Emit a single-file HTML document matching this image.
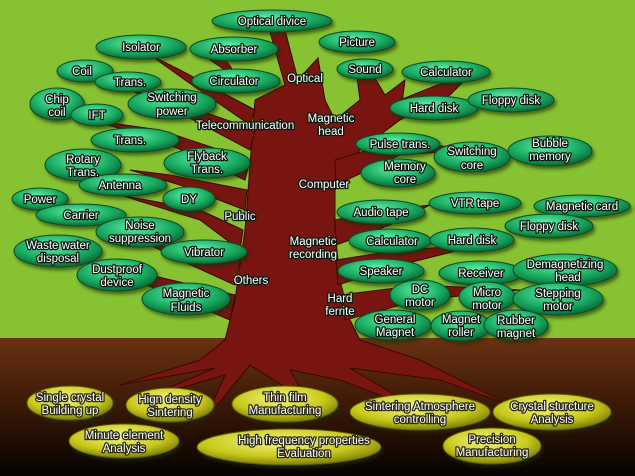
<!DOCTYPE html>
<html><head><meta charset="utf-8"><style>
html,body{margin:0;padding:0;background:#86c232}
svg{display:block}
text{font-family:"Liberation Sans",sans-serif;font-size:11.5px;fill:#fff;stroke:#0a1a10;stroke-width:2.6px;paint-order:stroke;text-anchor:middle;stroke-linejoin:round}
.y text{fill:#fff;stroke:#2a2a10;}
ellipse{stroke:#0a4a26;stroke-width:1}
.y ellipse{stroke:#5a5a00}
</style></head><body>
<svg width="635" height="476" viewBox="0 0 635 476" xmlns="http://www.w3.org/2000/svg">
<defs>
<radialGradient id="g" cx="0.45" cy="0.35" r="0.7"><stop offset="0" stop-color="#5ef0a8"/><stop offset="0.6" stop-color="#17a85e"/><stop offset="1" stop-color="#075a30"/></radialGradient>
<radialGradient id="yl" cx="0.45" cy="0.35" r="0.7"><stop offset="0" stop-color="#f6f68a"/><stop offset="0.6" stop-color="#c8c81a"/><stop offset="1" stop-color="#6e6e08"/></radialGradient>
<linearGradient id="gr" x1="0" y1="0" x2="0" y2="1"><stop offset="0" stop-color="#6a3212"/><stop offset="0.5" stop-color="#3a1806"/><stop offset="1" stop-color="#050200"/></linearGradient>
<filter id="sh" x="-20%" y="-30%" width="140%" height="170%"><feDropShadow dx="2" dy="3" stdDeviation="1.5" flood-color="#1a2a05" flood-opacity="0.6"/></filter>
</defs>
<rect width="635" height="338" fill="#86c232"/>
<rect y="338" width="635" height="138" fill="url(#gr)"/>
<g fill="#781510" stroke="#3a0805" stroke-width="1">
<path d="M255,100 L245,230 L235,300 L225,340 L200,360 L120,385 L215,368 L140,400 L225,375 L205,420 L250,365 L290,390 L310,405 L290,370 L340,380 L420,410 L350,368 L440,380 L510,405 L420,360 L360,340 L350,320 L340,280 L335,230 L335,190 L360,150 L400,120 L405,80 L385,95 L370,70 L355,62 L360,100 L335,120 L325,100 L318,58 L298,80 L285,30 L270,32 L285,85 L255,100 Z"/>
<path d="M255,110 L180,70 L150,55 L185,80 L250,125 Z"/>
<path d="M255,130 L170,100 L130,90 L175,110 L250,150 Z"/>
<path d="M250,160 L160,130 L90,120 L160,140 L245,180 Z"/>
<path d="M247,190 L170,175 L130,170 L180,185 L245,210 Z"/>
<path d="M243,230 L200,210 L120,195 L200,220 L240,250 Z"/>
<path d="M240,260 L180,250 L140,240 L180,260 L235,285 Z"/>
<path d="M235,295 L150,275 L100,270 L160,290 L230,320 Z"/>
<path d="M210,60 L200,45 L215,45 L240,80 Z"/>
<path d="M335,160 L400,140 L470,150 L400,155 L336,185 Z"/>
<path d="M335,220 L390,210 L430,205 L390,225 L336,245 Z"/>
<path d="M336,260 L400,250 L480,245 L400,265 L338,285 Z"/>
<path d="M340,295 L420,285 L520,290 L420,300 L345,320 Z"/>
<path d="M400,100 L450,80 L470,75 L450,95 L400,120 Z"/>
</g>
<g filter="url(#sh)">
<ellipse cx="272" cy="21" rx="60" ry="11" fill="url(#g)"/>
<ellipse cx="141" cy="47" rx="45" ry="12" fill="url(#g)"/>
<ellipse cx="234" cy="49" rx="44" ry="12" fill="url(#g)"/>
<ellipse cx="357" cy="42" rx="38" ry="11" fill="url(#g)"/>
<ellipse cx="85" cy="71" rx="28" ry="11" fill="url(#g)"/>
<ellipse cx="128" cy="82" rx="33" ry="10" fill="url(#g)"/>
<ellipse cx="236" cy="81" rx="44" ry="12" fill="url(#g)"/>
<ellipse cx="365" cy="69" rx="28" ry="10" fill="url(#g)"/>
<ellipse cx="446" cy="72" rx="44" ry="11" fill="url(#g)"/>
<ellipse cx="57" cy="104" rx="27" ry="16" fill="url(#g)"/>
<ellipse cx="97" cy="115" rx="26" ry="11" fill="url(#g)"/>
<ellipse cx="172" cy="104" rx="44" ry="15" fill="url(#g)"/>
<ellipse cx="434" cy="108" rx="44" ry="12" fill="url(#g)"/>
<ellipse cx="511" cy="100" rx="43" ry="12" fill="url(#g)"/>
<ellipse cx="135" cy="140" rx="44" ry="12" fill="url(#g)"/>
<ellipse cx="398" cy="144" rx="42" ry="11" fill="url(#g)"/>
<ellipse cx="472" cy="157" rx="38" ry="15" fill="url(#g)"/>
<ellipse cx="550" cy="151" rx="42" ry="15" fill="url(#g)"/>
<ellipse cx="83" cy="165" rx="38" ry="16" fill="url(#g)"/>
<ellipse cx="207" cy="163" rx="43" ry="15" fill="url(#g)"/>
<ellipse cx="398" cy="173" rx="37" ry="14" fill="url(#g)"/>
<ellipse cx="123" cy="185" rx="44" ry="11" fill="url(#g)"/>
<ellipse cx="40" cy="199" rx="28" ry="11" fill="url(#g)"/>
<ellipse cx="189" cy="199" rx="26" ry="12" fill="url(#g)"/>
<ellipse cx="475" cy="203" rx="46" ry="11" fill="url(#g)"/>
<ellipse cx="582" cy="206" rx="48" ry="11" fill="url(#g)"/>
<ellipse cx="81" cy="215" rx="45" ry="11" fill="url(#g)"/>
<ellipse cx="381" cy="212" rx="44" ry="12" fill="url(#g)"/>
<ellipse cx="549" cy="226" rx="44" ry="12" fill="url(#g)"/>
<ellipse cx="140" cy="232" rx="44" ry="15" fill="url(#g)"/>
<ellipse cx="390" cy="241" rx="41" ry="12" fill="url(#g)"/>
<ellipse cx="472" cy="240" rx="42" ry="12" fill="url(#g)"/>
<ellipse cx="58" cy="251" rx="44" ry="16" fill="url(#g)"/>
<ellipse cx="204" cy="252" rx="43" ry="12" fill="url(#g)"/>
<ellipse cx="381" cy="271" rx="43" ry="12" fill="url(#g)"/>
<ellipse cx="481" cy="273" rx="42" ry="12" fill="url(#g)"/>
<ellipse cx="565" cy="270" rx="52" ry="16" fill="url(#g)"/>
<ellipse cx="117" cy="275" rx="40" ry="16" fill="url(#g)"/>
<ellipse cx="420" cy="295" rx="30" ry="15" fill="url(#g)"/>
<ellipse cx="487" cy="297" rx="28" ry="15" fill="url(#g)"/>
<ellipse cx="558" cy="299" rx="45" ry="16" fill="url(#g)"/>
<ellipse cx="186" cy="299" rx="44" ry="16" fill="url(#g)"/>
<ellipse cx="393" cy="325" rx="38" ry="15" fill="url(#g)"/>
<ellipse cx="461" cy="326" rx="30" ry="15" fill="url(#g)"/>
<ellipse cx="516" cy="325" rx="32" ry="15" fill="url(#g)"/>
</g>
<g>
<text x="272" y="25">Optical divice</text>
<text x="141" y="51">Isolator</text>
<text x="234" y="53">Absorber</text>
<text x="357" y="46">Picture</text>
<text x="82" y="75">Coil</text>
<text x="130" y="86">Trans.</text>
<text x="234" y="85">Circulator</text>
<text x="365" y="73">Sound</text>
<text x="446" y="76">Calculator</text>
<text x="57" y="103">Chip</text><text x="57" y="116">coil</text>
<text x="97" y="119">IFT</text>
<text x="172" y="101">Switching</text><text x="172" y="115">power</text>
<text x="434" y="112">Hard disk</text>
<text x="511" y="104">Floppy disk</text>
<text x="130" y="144">Trans.</text>
<text x="400" y="148">Pulse trans.</text>
<text x="472" y="155">Switching</text><text x="472" y="169">core</text>
<text x="550" y="147">Bubble</text><text x="550" y="160">memory</text>
<text x="83" y="163">Rotary</text><text x="83" y="176">Trans.</text>
<text x="207" y="160">Flyback</text><text x="207" y="173">Trans.</text>
<text x="405" y="170">Memory</text><text x="405" y="183">core</text>
<text x="120" y="189">Antenna</text>
<text x="40" y="203">Power</text>
<text x="189" y="203">DY</text>
<text x="475" y="207">VTR tape</text>
<text x="582" y="210">Magnetic card</text>
<text x="81" y="219">Carrier</text>
<text x="381" y="216">Audio tape</text>
<text x="549" y="230">Floppy disk</text>
<text x="140" y="229">Noise</text><text x="140" y="242">suppression</text>
<text x="392" y="245">Calculator</text>
<text x="472" y="244">Hard disk</text>
<text x="58" y="249">Waste water</text><text x="58" y="262">disposal</text>
<text x="204" y="256">Vibrator</text>
<text x="381" y="275">Speaker</text>
<text x="481" y="277">Receiver</text>
<text x="565" y="268">Demagnetizing</text><text x="568" y="281">head</text>
<text x="117" y="273">Dustproof</text><text x="117" y="286">device</text>
<text x="420" y="293">DC</text><text x="420" y="306">motor</text>
<text x="487" y="296">Micro</text><text x="487" y="309">motor</text>
<text x="558" y="297">Stepping</text><text x="558" y="310">motor</text>
<text x="186" y="297">Magnetic</text><text x="186" y="311">Fluids</text>
<text x="395" y="323">General</text><text x="395" y="336">Magnet</text>
<text x="461" y="323">Magnet</text><text x="461" y="336">roller</text>
<text x="516" y="324">Rubber</text><text x="516" y="337">magnet</text>
</g>
<g>
<text x="305" y="82">Optical</text>
<text x="245" y="129">Telecommunication</text>
<text x="331" y="122">Magnetic</text><text x="331" y="135">head</text>
<text x="324" y="188">Computer</text>
<text x="240" y="220">Public</text>
<text x="313" y="245">Magnetic</text><text x="313" y="258">recording</text>
<text x="251" y="284">Others</text>
<text x="340" y="302">Hard</text><text x="340" y="315">ferrite</text>
</g>
<g class="y">
<g filter="url(#sh)">
<ellipse cx="70" cy="403" rx="43" ry="17" fill="url(#yl)"/>
<ellipse cx="170" cy="405" rx="44" ry="17" fill="url(#yl)"/>
<ellipse cx="285" cy="404" rx="53" ry="18" fill="url(#yl)"/>
<ellipse cx="420" cy="412" rx="70" ry="18" fill="url(#yl)"/>
<ellipse cx="552" cy="412" rx="59" ry="18" fill="url(#yl)"/>
<ellipse cx="124" cy="441" rx="55" ry="17" fill="url(#yl)"/>
<ellipse cx="289" cy="447" rx="92" ry="18" fill="url(#yl)"/>
<ellipse cx="492" cy="446" rx="49" ry="18" fill="url(#yl)"/>
</g>
<text x="70" y="401">Single crystal</text><text x="70" y="414">Building up</text>
<text x="170" y="403">Hign density</text><text x="170" y="416">Sintering</text>
<text x="285" y="401">Thin film</text><text x="285" y="414">Manufacturing</text>
<text x="420" y="410">Sintering Atmosphere</text><text x="420" y="423">controlling</text>
<text x="552" y="410">Crystal sturcture</text><text x="552" y="423">Analysis</text>
<text x="124" y="439">Minute element</text><text x="124" y="452">Analysis</text>
<text x="304" y="444">High frequency properties</text><text x="304" y="457">Evaluation</text>
<text x="492" y="443">Precision</text><text x="492" y="456">Manufacturing</text>
</g>
</svg>
</body></html>
